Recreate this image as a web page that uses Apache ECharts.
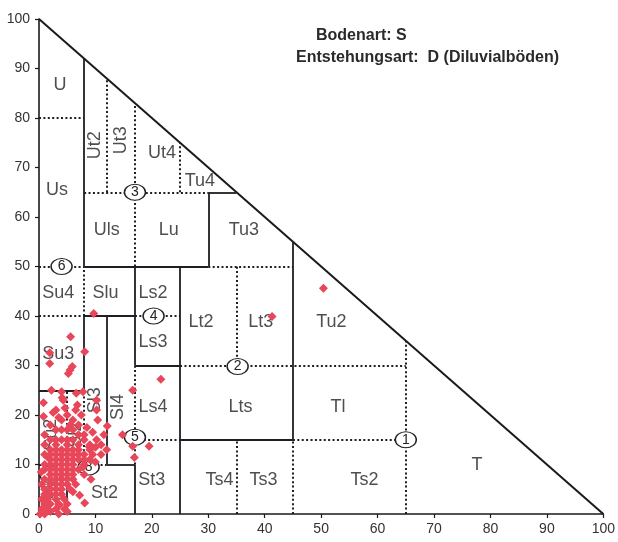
<!DOCTYPE html>
<html>
<head>
<meta charset="utf-8">
<script src="https://cdn.jsdelivr.net/npm/echarts@6/dist/echarts.min.js"></script>
<style>
  html, body { margin: 0; padding: 0; background: #fff; }
  #chart { width: 618px; height: 542px; }
</style>
</head>
<body>
<div id="chart"></div>
<script>
// Bodenartendiagramm: x = Ton (%), y = Schluff (%)
const axisTicks = [0, 10, 20, 30, 40, 50, 60, 70, 80, 90, 100];

// Boundary segments [x1, y1, x2, y2]
const triangleEdge = [[0, 100, 100, 0]];
const solidLines = [
  [8, 50, 8, 92], [8, 25, 8, 40],
  [8, 50, 30, 50], [30, 50, 30, 65], [30, 65, 35, 65],
  [45, 15, 45, 55], [25, 0, 25, 50],
  [8, 40, 17, 40], [17, 30, 17, 50], [17, 30, 25, 30],
  [0, 25, 8, 25], [12, 10, 12, 40], [12, 10, 17, 10],
  [17, 0, 17, 10], [25, 15, 45, 15], [5, 0, 5, 10]
];
const dottedLines = [
  [0, 80, 8, 80], [0, 50, 8, 50], [8, 40, 8, 50], [0, 40, 8, 40],
  [8, 65, 30, 65], [12, 65, 12, 88], [17, 50, 17, 83], [25, 65, 25, 75],
  [30, 50, 45, 50], [35, 30, 35, 50], [17, 40, 25, 40],
  [25, 30, 65, 30], [17, 10, 17, 30], [17, 15, 25, 15],
  [45, 15, 65, 15], [45, 0, 45, 15], [35, 0, 35, 15], [65, 0, 65, 35],
  [5, 10, 5, 25], [8, 10, 8, 25], [0, 10, 12, 10]
];

// Class names and their anchor points (Ton, Schluff)
const classLabels = [
  ['U', 3.7, 86.7], ['Us', 3.2, 65.5], ['Ut4', 21.8, 73], ['Tu4', 28.5, 67.3],
  ['Uls', 12, 57.4], ['Lu', 23, 57.4], ['Tu3', 36.3, 57.4],
  ['Su4', 3.4, 44.6], ['Slu', 11.8, 44.6], ['Ls2', 20.2, 44.6],
  ['Lt2', 28.7, 38.8], ['Lt3', 39.3, 38.8], ['Tu2', 51.8, 38.8],
  ['Ls3', 20.2, 34.7], ['Su3', 3.4, 32.3],
  ['Lts', 35.7, 21.6], ['Tl', 53, 21.6], ['Ls4', 20.2, 21.6],
  ['St3', 20, 6.9], ['Ts4', 32, 6.9], ['Ts3', 39.8, 6.9], ['Ts2', 57.7, 6.9],
  ['T', 77.6, 9.9], ['St2', 11.6, 4.2], ['Ss', 2.5, 4]
];
const verticalLabels = [
  ['Ut2', 9.9, 74.5], ['Ut3', 14.6, 75.5], ['Sl3', 10, 23], ['Sl4', 14, 21.6],
  ['Su2', 2.2, 16], ['Sl2', 6.5, 16]
];

// Numbered markers on the class boundaries
const markerNumbers = ['1', '2', '3', '4', '5', '6', '7', '8'];
const markerTon =      [65, 35.2, 17, 20.3, 17, 4, 2, 8.8];
const markerSchluff =  [15, 29.8, 65, 40, 15.5, 50, 8, 9.5];

// Samples (Ton %, Schluff %)
const sampleTon = [
  9.7, 5.6, 8.1, 1.9, 1.9, 5.9, 5.5, 5.2, 2.2, 4, 7.8, 6.6, 4.3, 4.1, 10.2, 16.6, 21.6, 50.4, 41.3,
  4.6, 0.8, 10.2, 10.4, 12.1, 14.8, 10.2, 3, 5, 6, 7, 2, 3, 4, 5, 6, 7, 8, 1, 2, 3, 4, 5, 6, 8, 9,
  4, 5.5, 3.5, 6.5, 7.5, 8.5, 9.5,
  16.6, 19.5, 16.9, 11, 8.9, 8.1, 7.2, 0.2,
  1, 2, 3, 4, 5, 6, 7, 3, 5, 7, 1, 2, 3, 4, 5, 6, 7, 8, 2, 3, 4, 5, 6, 7, 9,
  1, 2, 3, 4, 5, 6, 8, 10, 1, 2, 3, 4, 5, 6, 7, 2, 3, 4, 5, 6, 8,
  1, 2, 3, 4, 5, 6, 0.5, 2, 3, 4, 5, 6.5, 1, 2, 3, 4, 5.5, 1, 2, 3, 4, 6,
  0.5, 1.5, 3, 4.5, 1, 2, 3.5, 5, 0.5, 1.5, 3, 4.5, 2, 1, 3.5, 5, 9, 10, 11, 9.5, 8, 11.5, 12,
  0.8, 1.5, 2.5, 6.8, 7.8, 9.2, 3.6, 0.4
];
const sampleSchluff = [
  40.5, 35.8, 32.8, 32.6, 30.4, 29.8, 29.1, 28.4, 25, 24.7, 24.7, 24.4, 23, 23.5, 23, 25, 27.2, 45.6, 39.9,
  21.4, 19.7, 21, 19, 17.8, 16, 15, 21, 20, 19, 18, 18, 17, 17, 17, 17, 16, 16, 16, 15, 15, 15, 15, 15, 15, 14,
  19, 18, 19.5, 21, 20, 17.5, 16.5,
  13.7, 13.7, 11.4, 12, 13.6, 2.2, 3.8, 0,
  14, 13, 13, 13, 13, 13, 13, 14, 14, 14, 12, 12, 12, 12, 12, 12, 12, 12, 11, 11, 11, 11, 11, 11, 11,
  10, 10, 10, 10, 10, 10, 10, 10.5, 9, 9, 9, 9, 9, 9, 9, 8, 8, 8, 8, 8, 8,
  7, 7, 7, 7, 7, 7, 6, 6, 6, 6, 6, 6, 5, 5, 5, 5, 5, 4, 4, 4, 4, 4.5,
  3, 3, 3, 3, 2, 2, 2, 2, 1, 1, 1, 1, 0.5, 0, 0, 0.5, 13, 13.5, 14, 12, 11, 16, 13,
  22.5, 11.5, 20.5, 22, 9.5, 7, 1.8, 8.5
];

const FONT = "'Liberation Sans', Arial, sans-serif";
const chart = echarts.init(document.getElementById('chart'));

const seg = arr => arr.map(s => ({ coords: [[s[0], s[1]], [s[2], s[3]]] }));

chart.setOption({
  animation: false,
  backgroundColor: '#ffffff',
  grid: { left: 39, right: 11, top: 19, bottom: 28, containLabel: false },
  xAxis: {
    type: 'value', min: axisTicks[0], max: axisTicks[axisTicks.length - 1], interval: 10,
    splitLine: { show: false },
    axisLine: { show: true, onZero: false, lineStyle: { color: '#1a1a1a', width: 1.6 } },
    axisTick: { show: true, length: 4, lineStyle: { color: '#1a1a1a', width: 1.2 } },
    axisLabel: { color: '#333', fontSize: 14, fontFamily: FONT, margin: 8 }
  },
  yAxis: {
    type: 'value', min: axisTicks[0], max: axisTicks[axisTicks.length - 1], interval: 10,
    splitLine: { show: false },
    axisLine: { show: true, onZero: false, lineStyle: { color: '#1a1a1a', width: 1.6 } },
    axisTick: { show: true, length: 4, lineStyle: { color: '#1a1a1a', width: 1.2 } },
    axisLabel: { color: '#333', fontSize: 14, fontFamily: FONT, margin: 9 }
  },
  graphic: [
    { type: 'text', left: 316, top: 28, silent: true,
      style: { text: 'Bodenart: S', font: "bold 16px " + FONT, fill: '#2a2a2a' } },
    { type: 'text', left: 296, top: 50, silent: true,
      style: { text: 'Entstehungsart:  D (Diluvialböden)', font: "bold 16px " + FONT, fill: '#2a2a2a' } }
  ],
  series: [
    {
      type: 'lines', coordinateSystem: 'cartesian2d', silent: true, z: 2,
      data: seg(triangleEdge),
      lineStyle: { color: '#1a1a1a', width: 2, opacity: 1 }
    },
    {
      type: 'lines', coordinateSystem: 'cartesian2d', silent: true, z: 2,
      data: seg(solidLines),
      lineStyle: { color: '#1e1e24', width: 1.8, opacity: 1 }
    },
    {
      type: 'lines', coordinateSystem: 'cartesian2d', silent: true, z: 2,
      data: seg(dottedLines),
      lineStyle: { color: '#1e1e24', width: 2, type: [2, 2.4], opacity: 1 }
    },
    {
      type: 'scatter', silent: true, z: 3, symbolSize: 0,
      data: classLabels.map(d => ({ name: d[0], value: [d[1], d[2]] })),
      label: { show: true, position: 'inside', formatter: '{b}', color: '#222',
               fontSize: 18, fontFamily: FONT }
    },
    {
      type: 'scatter', silent: true, z: 3, symbolSize: 0,
      data: verticalLabels.map(d => ({ name: d[0], value: [d[1], d[2]] })),
      label: { show: true, position: 'inside', formatter: '{b}', color: '#222', rotate: 90,
               fontSize: 18, fontFamily: FONT }
    },
    {
      type: 'scatter', silent: true, z: 4, symbol: 'circle', symbolSize: [21, 16],
      data: markerNumbers.map((n, i) => ({ name: n, value: [markerTon[i], markerSchluff[i]] })),
      itemStyle: { color: '#ffffff', borderColor: '#222', borderWidth: 1.3, opacity: 1 },
      label: { show: true, position: 'inside', formatter: '{b}', color: '#222',
               fontSize: 14, fontFamily: FONT }
    },
    {
      type: 'scatter', silent: true, z: 5, symbol: 'diamond', symbolSize: 9,
      data: sampleTon.map((t, i) => [t, sampleSchluff[i]]),
      itemStyle: { color: '#e8475a', opacity: 1 }
    }
  ]
});
</script>
</body>
</html>
